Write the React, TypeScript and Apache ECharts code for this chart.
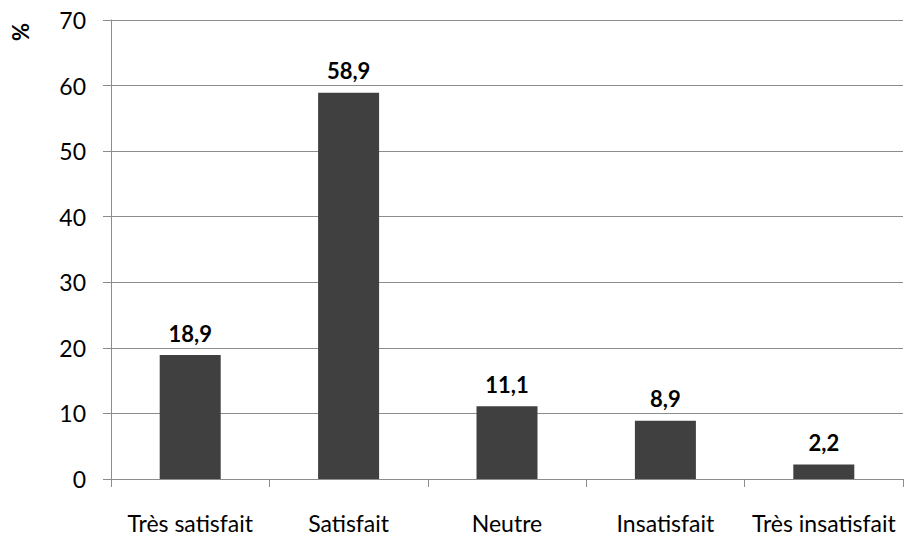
import React, { useEffect, useRef } from "react";
import * as echarts from "echarts";

const categories = ["Très satisfait", "Satisfait", "Neutre", "Insatisfait", "Très insatisfait"];
const values = [18.9, 58.9, 11.1, 8.9, 2.2];
const yMin = 0;
const yMax = 70;
const yStep = 10;
const yUnit = "%";

const FONT = "Lato, 'Open Sans', sans-serif";

export default function App() {
  const ref = useRef<HTMLDivElement>(null);
  useEffect(() => {
    const chart = echarts.init(ref.current!, null, { renderer: "svg" });
    chart.setOption({
      animation: false,
      backgroundColor: "#ffffff",
      grid: { left: 111, right: 1, top: 20, bottom: 58, containLabel: false },
      graphic: [
        {
          type: "text",
          x: 20,
          y: 32,
          rotation: Math.PI / 2,
          style: {
            text: yUnit,
            fill: "#000",
            fontSize: 22,
            fontWeight: "bold",
            fontFamily: FONT,
            align: "center",
            verticalAlign: "middle",
          },
        },
      ],
      xAxis: {
        type: "category",
        data: categories,
        axisLine: { lineStyle: { color: "#8c8c8c", width: 1 } },
        axisTick: { show: true, length: 8, alignWithLabel: false, lineStyle: { color: "#8c8c8c" } },
        axisLabel: { color: "#000", fontSize: 23, fontFamily: FONT, margin: 32, interval: 0 },
      },
      yAxis: {
        type: "value",
        min: yMin,
        max: yMax,
        interval: yStep,
        axisLine: { show: true, lineStyle: { color: "#8c8c8c" } },
        axisTick: { show: true, length: 8, lineStyle: { color: "#8c8c8c" } },
        splitLine: { show: true, lineStyle: { color: "#8c8c8c", width: 1 } },
        axisLabel: { color: "#000", fontSize: 23, fontFamily: FONT, margin: 25 },
      },
      series: [
        {
          type: "bar",
          data: values,
          barWidth: 61,
          itemStyle: { color: "#404040" },
          label: {
            show: true,
            position: "top",
            distance: 11,
            color: "#000",
            fontSize: 22,
            fontWeight: "bold",
            fontFamily: FONT,
            formatter: (p: any) => String(p.value).replace(".", ","),
          },
        },
      ],
    });
    return () => chart.dispose();
  }, []);
  return <div ref={ref} style={{ width: 904, height: 537, position: "absolute", left: 0, top: 0 }} />;
}
